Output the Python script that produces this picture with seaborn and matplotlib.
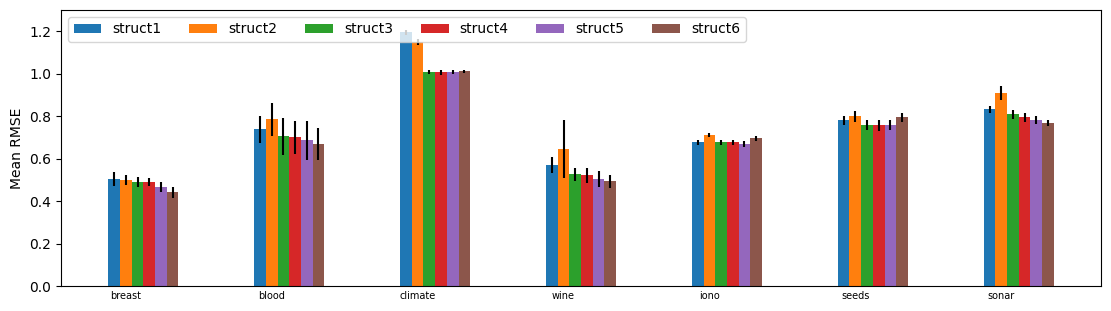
import numpy as np
import matplotlib
matplotlib.use("Agg")
import matplotlib.pyplot as plt
import seaborn as sns

datasets = ["breast", "blood", "climate", "wine", "iono", "seeds", "sonar"]
structs = ["struct1", "struct2", "struct3", "struct4", "struct5", "struct6"]

# mean RMSE per dataset, one list per structure
means = {
    "struct1": [0.504, 0.739, 1.194, 0.569, 0.678, 0.781, 0.833],
    "struct2": [0.499, 0.786, 1.148, 0.645, 0.711, 0.800, 0.908],
    "struct3": [0.489, 0.706, 1.007, 0.527, 0.678, 0.758, 0.809],
    "struct4": [0.489, 0.701, 1.006, 0.522, 0.678, 0.758, 0.795],
    "struct5": [0.466, 0.687, 1.007, 0.504, 0.668, 0.758, 0.781],
    "struct6": [0.442, 0.668, 1.011, 0.494, 0.696, 0.795, 0.767],
}
# error bar half-widths
errors = {
    "struct1": [0.034, 0.063, 0.012, 0.038, 0.012, 0.021, 0.016],
    "struct2": [0.025, 0.078, 0.014, 0.138, 0.009, 0.026, 0.033],
    "struct3": [0.023, 0.087, 0.010, 0.031, 0.012, 0.024, 0.021],
    "struct4": [0.020, 0.078, 0.010, 0.035, 0.012, 0.026, 0.021],
    "struct5": [0.023, 0.092, 0.008, 0.038, 0.014, 0.024, 0.019],
    "struct6": [0.026, 0.075, 0.008, 0.031, 0.012, 0.021, 0.014],
}

colors = sns.color_palette("tab10", len(structs))
width = 0.08
x = np.arange(len(datasets))

fig, ax = plt.subplots(figsize=(11.11, 3.11), dpi=100)
for i, s in enumerate(structs):
    ax.bar(x + i * width, means[s], width, yerr=errors[s],
           color=colors[i], label=s, ecolor="black")

ax.set_xticks(x + width)
ax.set_xticklabels(datasets, fontsize=7)
ax.tick_params(axis="x", length=0)
ax.set_ylabel("Mean RMSE")
ax.set_ylim(0, 1.3)
ax.legend(loc="upper left", ncol=6)
plt.subplots_adjust(left=0.055, right=0.991, top=0.968, bottom=0.08)
plt.savefig("out.png", dpi=100)
plt.close()
